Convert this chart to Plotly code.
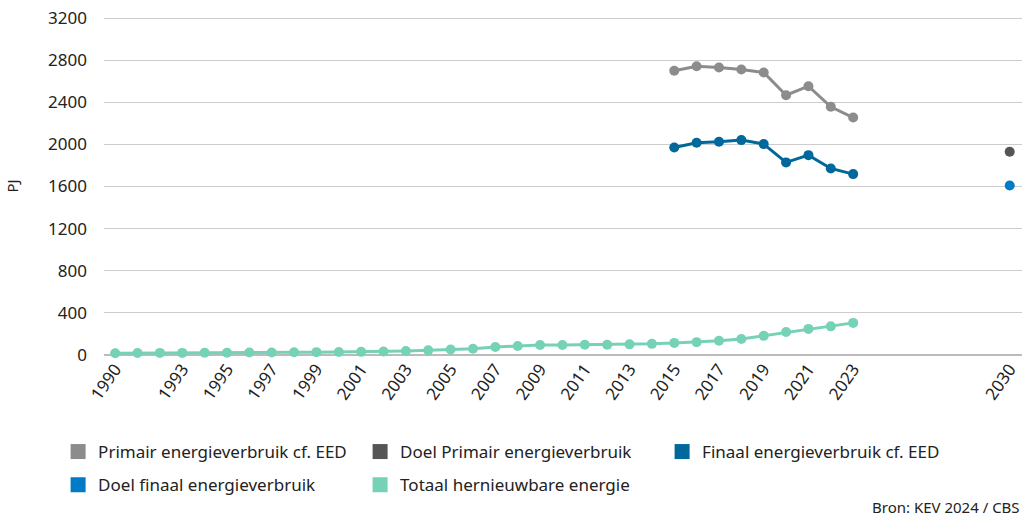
import plotly.graph_objects as go

years_hist = list(range(1990, 2024))
years_eed = list(range(2015, 2024))
target_year = [2030]

primair = [2699, 2743, 2730, 2711, 2683, 2467, 2553, 2357, 2255]
finaal = [1971, 2015, 2025, 2041, 2003, 1829, 1898, 1772, 1718]
doel_primair = [1930]
doel_finaal = [1610]
hernieuwbaar = [17, 19, 20, 20, 21, 21, 23, 24, 26, 27,
                29, 30, 33, 38, 44, 52, 60, 76, 86, 95,
                95, 98, 98, 101, 106, 115, 122, 135, 152, 182,
                218, 248, 272, 305]

tick_years = [1990, 1993, 1995, 1997, 1999, 2001, 2003, 2005, 2007, 2009,
              2011, 2013, 2015, 2017, 2019, 2021, 2023, 2030]
y_ticks = [0, 400, 800, 1200, 1600, 2000, 2400, 2800, 3200]

names = ["Primair energieverbruik cf. EED", "Doel Primair energieverbruik",
         "Finaal energieverbruik cf. EED", "Doel finaal energieverbruik",
         "Totaal hernieuwbare energie"]
colors = ["#8c8c8c", "#555555", "#01689b", "#007bc7", "#76d2b6"]
legend_of = ["legend", "legend", "legend", "legend2", "legend2"]

FONT = "Noto Sans"
TXT = "#222222"

fig = go.Figure()

series = [
    (years_eed, primair, "lines+markers"),
    (target_year, doel_primair, "markers"),
    (years_eed, finaal, "lines+markers"),
    (target_year, doel_finaal, "markers"),
    (years_hist, hernieuwbaar, "lines+markers"),
]
order = [4, 0, 2, 1, 3]
for i in order:
    xs, ys, mode = series[i]
    fig.add_trace(go.Scatter(
        x=xs, y=ys, mode=mode, name=names[i],
        line=dict(color=colors[i], width=3),
        marker=dict(color=colors[i], size=10),
        showlegend=False, cliponaxis=False,
        hovertemplate="%{x}: %{y} PJ<extra>" + names[i] + "</extra>",
    ))

for i in range(5):
    fig.add_trace(go.Scatter(
        x=[None], y=[None], mode="markers", name=names[i],
        marker=dict(color=colors[i], size=15, symbol="square"),
        showlegend=True, hoverinfo="skip", legend=legend_of[i],
    ))

leg_common = dict(
    orientation="h", xanchor="left", yanchor="middle",
    font=dict(size=17, color=TXT),
    entrywidth=257, entrywidthmode="pixels",
    itemclick=False, itemdoubleclick=False,
    traceorder="normal", bgcolor="rgba(0,0,0,0)",
)

fig.update_layout(
    width=1028, height=517,
    margin=dict(l=104, r=6, t=17, b=162, autoexpand=False),
    paper_bgcolor="white", plot_bgcolor="white",
    font=dict(family=FONT, size=15, color=TXT),
    showlegend=True,
    legend=dict(x=-0.050, y=-0.287, **leg_common),
    legend2=dict(x=-0.050, y=-0.385, **leg_common),
    xaxis=dict(
        range=[1989.5, 2030.55],
        tickmode="array", tickvals=tick_years,
        ticktext=[str(t) for t in tick_years],
        tickangle=-55, showgrid=False,
        showline=False, zeroline=False, ticks="",
        tickfont=dict(size=17, color=TXT),
        ticklabeloverflow="allow",
        fixedrange=True,
    ),
    yaxis=dict(
        range=[0, 3210], tickmode="array", tickvals=y_ticks,
        showgrid=True, gridcolor="#cccccc", gridwidth=1,
        zeroline=True, zerolinecolor="#bbbbbb", zerolinewidth=2,
        ticks="", ticklabelstandoff=16,
        ticklabeloverflow="allow",
        tickfont=dict(size=17, color=TXT),
        title=dict(text="PJ", font=dict(size=15, color=TXT), standoff=25),
        fixedrange=True,
    ),
    annotations=[dict(
        text="Bron: KEV 2024 / CBS", xref="paper", yref="paper",
        x=1.0, y=-0.45, xanchor="right", yanchor="middle",
        showarrow=False, font=dict(size=15, color=TXT),
    )],
)

fig.write_html("out.html", config={"displayModeBar": False},
               post_script="document.body.style.margin='0';")
